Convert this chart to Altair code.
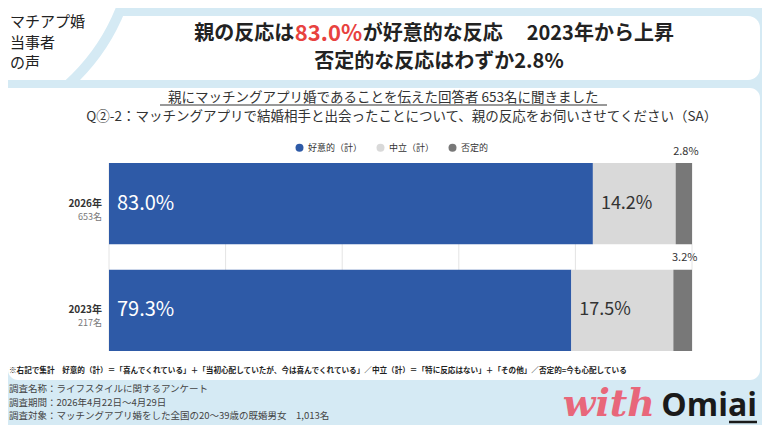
import altair as alt
import pandas as pd

# ---------------- data ----------------
years = ["2026年", "2023年"]
sample_sizes = ["653名", "217名"]
categories = ["好意的（計）", "中立（計）", "否定的"]
favorable = [83.0, 79.3]
neutral = [14.2, 17.5]
negative = [2.8, 3.2]
tick_values = [0, 20, 40, 60, 80, 100]
colors = ["#2e5aa7", "#d9d9d9", "#787878"]

corner_lines = ["マチアプ婚", "当事者", "の声"]
title1_parts = ["親の反応は", "83.0%", "が好意的な反応", "2023年から上昇"]
title2 = "否定的な反応はわずか2.8%"
header1 = "親にマッチングアプリ婚であることを伝えた回答者 653名に聞きました"
header2 = "Q②-2：マッチングアプリで結婚相手と出会ったことについて、親の反応をお伺いさせてください（SA）"
footnote = ("※右記で集計　好意的（計）＝「喜んでくれている」＋「当初心配していたが、今は喜んでくれている」"
            "／中立（計）＝「特に反応はない」＋「その他」／否定的=今も心配している")
survey = ["調査名称：ライフスタイルに関するアンケート",
          "調査期間：2026年4月22日～4月29日",
          "調査対象：マッチングアプリ婚をした全国の20～39歳の既婚男女　1,013名"]
logo_parts = ["with", "Omiai"]

rows = []
for i, yr in enumerate(years):
    for j, vals in enumerate([favorable, neutral, negative]):
        rows.append({"year": yr, "category": categories[j], "order": j, "value": vals[i]})
df = pd.DataFrame(rows)

# ---------------- layout helpers ----------------
BG = "#d5eaf4"
JP = "Noto Sans CJK JP"
W, H = 583, 188
OX, OY = 109, 163  # plot origin in page coordinates


def rx(x):
    return x - OX


def ry(y):
    return y - OY


dummy = pd.DataFrame({"k": [0]})


def rect(x1, x2, y1, y2, color, radius=0):
    return alt.Chart(dummy).mark_rect(color=color, cornerRadius=radius).encode(
        x=alt.value(rx(x1)), x2=alt.value(rx(x2)), y=alt.value(ry(y1)), y2=alt.value(ry(y2)))


def label(text, x, y, size, color="#222", align="center", weight="normal", font=JP, italic=False):
    kw = dict(text=text, fontSize=size, color=color, align=align, baseline="middle",
              fontWeight=weight, font=font)
    if italic:
        kw["fontStyle"] = "italic"
    return alt.Chart(dummy).mark_text(**kw).encode(x=alt.value(rx(x)), y=alt.value(ry(y)))


def hline(x1, x2, y, color="#333", width=1):
    return alt.Chart(dummy).mark_rule(color=color, strokeWidth=width).encode(
        x=alt.value(rx(x1)), x2=alt.value(rx(x2)), y=alt.value(ry(y)))


# ---------------- decorations ----------------
title_box = rect(8, 760, 16, 80, "white", 12)
corner = alt.Chart(dummy).mark_point(shape="circle", size=406 ** 2, filled=True, fill="white",
                                     stroke=BG, strokeWidth=10, opacity=1).encode(
    x=alt.value(rx(-68)), y=alt.value(ry(-66)))
strip = rect(8, 220, 80, 88, BG)
panel = rect(8, 760, 88, 380, "white", 10)

texts = [
    label(corner_lines[0], 10, 22, 15, align="left"),
    label(corner_lines[1], 10, 43, 15, align="left"),
    label(corner_lines[2], 10, 63, 15, align="left"),
    label(title1_parts[0], 294.3, 34, 20, align="right", weight="bold"),
    label(title1_parts[1], 328.5, 34, 22, color="#e8423f", align="center", weight="bold"),
    label(title1_parts[2], 362.7, 34, 20, align="left", weight="bold"),
    label(title1_parts[3], 526.7, 34, 20, align="left", weight="bold"),
    label(title2, 439, 62, 20, align="center", weight="bold"),
    label(header1, 383.3, 98, 13.5, color="#333"),
    hline(160, 607, 105),
    label(header2, 401.7, 117, 13.5, color="#333"),
    label(footnote, 9, 371, 7.6, color="#222", align="left", weight="bold"),
    label(survey[0], 9, 389, 9.5, color="#444", align="left"),
    label(survey[1], 9, 402.5, 9.5, color="#444", align="left"),
    label(survey[2], 9, 416, 9.5, color="#444", align="left"),
    label(logo_parts[0], 655, 405, 38, color="#e8677a", align="right", weight="bold",
          font="DejaVu Serif", italic=True),
    label(logo_parts[1], 757, 406, 32, color="#1a1a1a", align="right", weight="bold", font="Open Sans"),
    hline(729, 757, 422, color="#1a1a1a", width=2.5),
]

# ---------------- chart ----------------
xscale = alt.Scale(domain=[0, 100], nice=False, zero=True)
yenc = alt.Y("year:N", sort=years, scale=alt.Scale(domain=years, paddingInner=0.24, paddingOuter=0),
             axis=None)

base = alt.Chart(df).transform_stack(
    stack="value", groupby=["year"], as_=["x0", "x1"],
    sort=[alt.SortField("order", order="ascending")]
).transform_calculate(
    label="format(datum.value, '.1f') + '%'",
    mid="(datum.x0 + datum.x1) / 2",
)

grid = alt.Chart(pd.DataFrame({"g": tick_values})).mark_rule(color="#e4e4e4", strokeWidth=1).encode(
    x=alt.X("g:Q", scale=xscale, axis=None), y=alt.value(0), y2=alt.value(H))

bars = base.mark_bar().encode(
    x=alt.X("x0:Q", scale=xscale,
            axis=alt.Axis(values=tick_values, labelExpr="datum.value + '%'", grid=False, domain=False,
                          ticks=False, tickSize=0, labelPadding=3, labelFontSize=10, labelColor="#444",
                          labelFont=JP, title=None, zindex=1)),
    x2="x1:Q",
    y=yenc,
    color=alt.Color("category:N", scale=alt.Scale(domain=categories, range=colors),
                    legend=alt.Legend(title=None, orient="none", legendX=186, legendY=-20,
                                      direction="horizontal", symbolType="circle", symbolSize=64,
                                      symbolStrokeWidth=0, labelFontSize=9, labelFont=JP,
                                      labelColor="#333", labelOffset=4, columnPadding=13, padding=0,
                                      symbolOpacity=1)),
)

fav_labels = base.transform_filter("datum.order == 0").mark_text(
    align="left", baseline="middle", dx=8, fontSize=20, font=JP, color="white").encode(
    x=alt.X("x0:Q", scale=xscale, axis=None), y=yenc, text="label:N")

neu_labels = base.transform_filter("datum.order == 1").mark_text(
    align="left", baseline="middle", dx=8, fontSize=18, font=JP, color="#333").encode(
    x=alt.X("x0:Q", scale=xscale, axis=None), y=yenc, text="label:N")

neg_labels = base.transform_filter("datum.order == 2").mark_text(
    align="center", baseline="middle", dx=2, dy=-52, fontSize=11, font=JP, color="#333").encode(
    x=alt.X("mid:Q", scale=xscale, axis=None), y=yenc, text="label:N")

ydf = pd.DataFrame({"year": years, "n": sample_sizes})
year_labels = alt.Chart(ydf).mark_text(align="right", baseline="middle", fontSize=10, fontWeight="bold",
                                       font=JP, color="#333").encode(
    x=alt.value(-7), y=yenc, text="year:N")
n_labels = alt.Chart(ydf).mark_text(align="right", baseline="middle", dy=13, fontSize=9, font=JP,
                                    color="#777").encode(
    x=alt.value(-7), y=yenc, text="n:N")

chart = alt.layer(
    title_box, corner, strip, panel, *texts, grid, bars, fav_labels, neu_labels, neg_labels,
    year_labels, n_labels
).properties(
    width=W, height=H,
    padding={"left": 101, "top": 155, "right": 70, "bottom": 74},
    autosize=alt.AutoSizeParams(type="none"),
    background=BG,
).configure_view(stroke=None)

chart.save("out.html", embed_options={"renderer": "svg", "actions": False})
